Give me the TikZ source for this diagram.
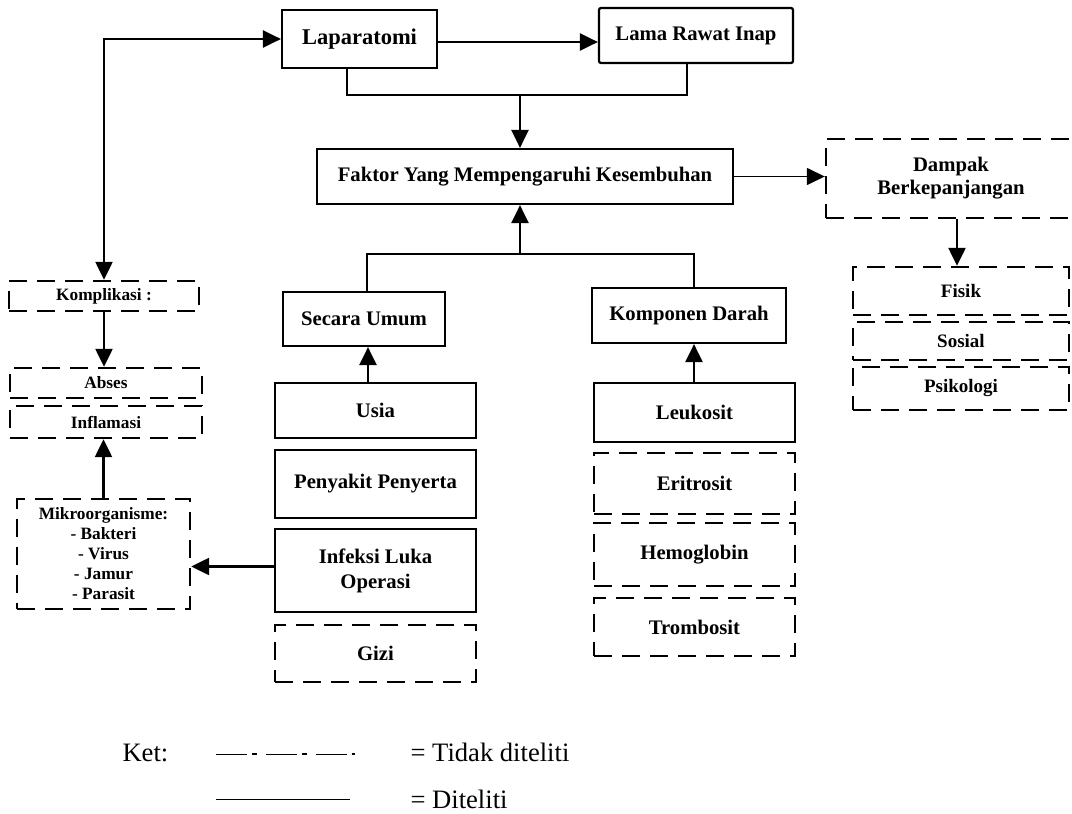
\documentclass[tikz,border=0pt]{standalone}
\usepackage{fontspec}
\setmainfont{Liberation Serif}
\usetikzlibrary{arrows.meta,positioning}

\begin{document}
\begin{tikzpicture}[x=1pt,y=-1pt,>={Triangle[length=18pt,width=17pt]},
  diteliti/.style={draw,line width=2.2pt,inner sep=0pt,align=center,
    font=\bfseries\fontsize{20.7}{24}\selectfont},
  tdkditeliti/.style={diteliti,line width=2.4pt,dash pattern=on 18pt off 10pt},
  kecil/.style={font=\bfseries\fontsize{17.3}{20}\selectfont},
  sedang/.style={font=\bfseries\fontsize{19}{22}\selectfont},
  panah/.style={line width=2.4pt,->},
  ket/.style={anchor=base west,font=\fontsize{26.6}{30}\selectfont}]
\clip (0,0) rectangle (1072,814);
% alur atas
\node[diteliti,minimum width=155pt,minimum height=58pt,
  font=\bfseries\fontsize{22.5}{26}\selectfont] (lap) at (359.5,39) {Laparatomi};
\node[diteliti,rounded corners=2pt,minimum width=194pt,minimum height=55pt] (lama) at (696,35.5) {Lama Rawat Inap};
\node[diteliti,minimum width=416pt,minimum height=55pt] (faktor) at (525,176.5) {Faktor Yang Mempengaruhi Kesembuhan};
\coordinate (gabung) at (520,95);
\draw[panah] ([yshift=-3pt]lap.east) -- ([yshift=-3pt]lama.west |- lap.east);
\draw[line width=2.4pt] ([xshift=-12.5pt]lap.south) |- (gabung) -| ([xshift=-9pt]lama.south);
\draw[panah] (gabung) -- (faktor.north -| gabung);

% dampak
\node[tdkditeliti,minimum width=250pt,minimum height=79pt,align=center] (dampak) at (951,178.5) {Dampak\\[-1pt]Berkepanjangan};
\node[tdkditeliti,sedang,minimum width=216pt,minimum height=48pt] (fisik) at (961,291) {Fisik};
\node[tdkditeliti,sedang,minimum width=216pt,minimum height=38pt] (sosial) at (961,341) {Sosial};
\node[tdkditeliti,sedang,minimum width=216pt,minimum height=43pt] (psiko) at (961,388.5) {Psikologi};
\draw[line width=1.5pt,->] (faktor.east) -- (dampak.west |- faktor.east);
\draw[panah] (dampak.south -| 957,0) -- (fisik.north -| 957,0);

% faktor
\node[diteliti,minimum width=162pt,minimum height=54pt] (umum) at (364,319) {Secara Umum};
\node[diteliti,minimum width=194pt,minimum height=55pt] (darah) at (689,315.5) {Komponen Darah};
\node[diteliti,minimum width=201pt,minimum height=55pt] (usia) at (375.5,410.5) {Usia};
\node[diteliti,minimum width=201pt,minimum height=68pt] (penyakit) at (375.5,484) {Penyakit Penyerta};
\node[diteliti,minimum width=201pt,minimum height=83pt] (ilo) at (375.5,570.5) {Infeksi Luka\\[1pt]Operasi};
\node[tdkditeliti,minimum width=201pt,minimum height=57pt] (gizi) at (375.5,653.5) {Gizi};
\node[diteliti,minimum width=201pt,minimum height=59pt] (leuko) at (694.5,412.5) {Leukosit};
\node[tdkditeliti,minimum width=201pt,minimum height=61pt] (eritro) at (694.5,483.5) {Eritrosit};
\node[tdkditeliti,minimum width=201pt,minimum height=63pt] (hb) at (694.5,554.5) {Hemoglobin};
\node[tdkditeliti,minimum width=201pt,minimum height=58pt] (trombo) at (694.5,627) {Trombosit};
\coordinate (cabang) at (520,254);
\draw[line width=2.4pt] ([xshift=3pt]umum.north) |- (cabang) -| ([xshift=5pt]darah.north);
\draw[panah] (cabang) -- (faktor.south -| cabang);
\draw[panah] (usia.north -| 368,0) -- (umum.south -| 368,0);
\draw[panah] (leuko.north -| 694,0) -- (darah.south -| 694,0);

% komplikasi
\node[tdkditeliti,kecil,minimum width=190pt,minimum height=30pt] (kompli) at (104,296) {Komplikasi :};
\node[tdkditeliti,kecil,minimum width=192pt,minimum height=30pt] (abses) at (106,383) {Abses};
\node[tdkditeliti,kecil,minimum width=192pt,minimum height=32pt] (inflam) at (106,422) {Inflamasi};
\node[tdkditeliti,kecil,minimum width=173pt,minimum height=110pt] (mikro) at (103.5,554) {Mikroorganisme:\\- Bakteri\\- Virus\\- Jamur\\- Parasit};
\draw[line width=2.4pt,<->] (kompli.north) |- (lap.west);
\draw[panah] (kompli.south) -- (abses.north -| kompli.south);
\draw[panah] (mikro.north) -- (inflam.south -| mikro.north);
\draw[panah] ([yshift=4pt]ilo.west) -- ([yshift=4pt]mikro.east |- ilo.west);

% keterangan
\node[ket] (ketlbl) at (119,761) {Ket:};
\coordinate (garis1a) at (216,754);
\coordinate (garis1b) at (355,754);
\coordinate (garis2a) at (216,799);
\coordinate (garis2b) at (350,799);
\draw[line width=1pt,dash pattern=on 31pt off 19pt] (garis1a) -- (garis1b);
\draw[line width=2.2pt,dash pattern=on 0pt off 36pt on 5pt off 9pt] (garis1a) -- (garis1b);
\draw[line width=1pt] (garis2a) -- (garis2b);
\node[ket] (tdklbl) at (407,761) {= Tidak diteliti};
\node[ket] (dtlbl) at (407,808) {= Diteliti};
\end{tikzpicture}
\end{document}
